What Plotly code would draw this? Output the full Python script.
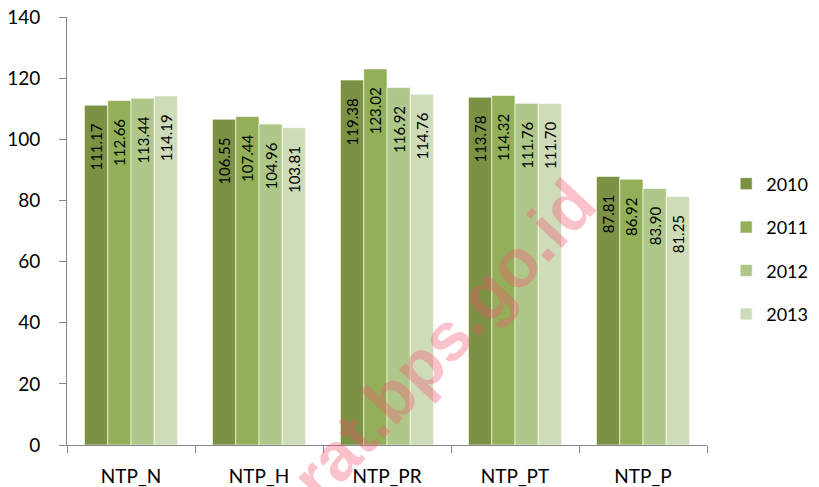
import plotly.graph_objects as go

categories = ["NTP_N", "NTP_H", "NTP_PR", "NTP_PT", "NTP_P"]
years = ["2010", "2011", "2012", "2013"]
v2010 = [111.17, 106.55, 119.38, 113.78, 87.81]
v2011 = [112.66, 107.44, 123.02, 114.32, 86.92]
v2012 = [113.44, 104.96, 116.92, 111.76, 83.90]
v2013 = [114.19, 103.81, 114.76, 111.70, 81.25]
series = [v2010, v2011, v2012, v2013]
colors = ["#7B9143", "#93AF58", "#B0C78A", "#CFDCBA"]

FONT = "Lato, 'Open Sans', sans-serif"
PAD = "\u00a0" * 4

fig = go.Figure()
for name, vals, col in zip(years, series, colors):
    fig.add_trace(go.Bar(
        x=categories, y=vals, name=name, legendgroup=name,
        marker=dict(color=col, line=dict(color="rgba(255,255,255,0.6)", width=1)),
        text=[f"{v:.2f}" + PAD for v in vals],
        textposition="inside", insidetextanchor="end", textangle=-90,
        textfont=dict(family=FONT, size=15, color="#000000"),
        hoverinfo="skip",
    ))

fig.update_layout(
    width=811, height=479,
    margin=dict(l=59, r=112, t=9, b=42, autoexpand=False),
    paper_bgcolor="white", plot_bgcolor="white",
    barmode="group", bargap=0.273, bargroupgap=0,
    uniformtext=dict(minsize=15, mode="show"),
    font=dict(family=FONT, color="#000000"),
    showlegend=True,
    legend=dict(x=1.030, xanchor="left", y=0.458, yanchor="middle",
                font=dict(family=FONT, size=18, color="#000000"),
                tracegroupgap=17, traceorder="grouped",
                itemwidth=30, borderwidth=0,
                bgcolor="rgba(0,0,0,0)"),
    xaxis=dict(showline=True, linecolor="#868686", linewidth=1,
               ticks="outside", ticklen=7, tickcolor="#868686",
               tickson="boundaries", ticklabelstandoff=14,
               tickfont=dict(family=FONT, size=19, color="#000000"),
               showgrid=False, zeroline=False),
    yaxis=dict(range=[0, 140], dtick=20, showline=True, linecolor="#868686",
               linewidth=1, ticks="outside", ticklen=7, tickcolor="#868686",
               tickfont=dict(family=FONT, size=19, color="#000000"),
               ticklabelstandoff=15, ticklabeloverflow="allow",
               showgrid=False, zeroline=False),
)

fig.add_annotation(
    text="<b>arat.bps.go.id</b>", xref="paper", yref="paper",
    x=0.567, y=-0.235, showarrow=False, textangle=-47,
    font=dict(family="Liberation Sans, Arial, sans-serif", size=68,
              color="rgba(240,90,110,0.36)"),
)

fig.write_html("out.html")
